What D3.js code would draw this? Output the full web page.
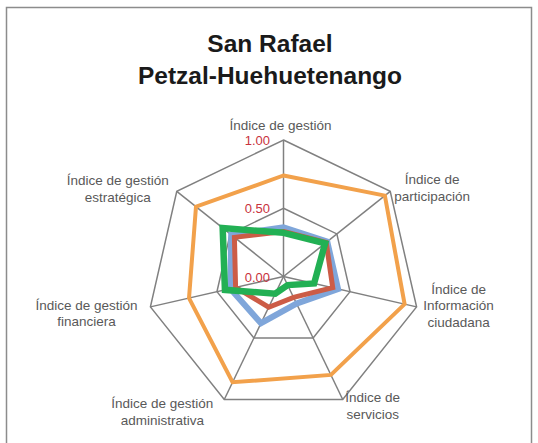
<!DOCTYPE html>
<html>
<head>
<meta charset="utf-8">
<script src="https://cdn.jsdelivr.net/npm/d3@7"></script>
<style>
  body { margin: 0; background: #fff; }
  svg { display: block; font-family: "Liberation Sans", Arial, sans-serif; }
</style>
</head>
<body>
<svg width="538" height="443"></svg>
<script>
// Axis labels, clockwise from the top
const AXES = [
  ["Índice de gestión"],
  ["Índice de", "participación"],
  ["Índice de", "Información", "ciudadana"],
  ["Índice de", "servicios"],
  ["Índice de gestión", "administrativa"],
  ["Índice de gestión", "financiera"],
  ["Índice de gestión", "estratégica"]
];

// Series values
const ORANGE = [0.74, 0.95, 0.91, 0.80, 0.86, 0.71, 0.82];
const BLUE = [0.36, 0.41, 0.41, 0.22, 0.38, 0.40, 0.49];
const RED = [0.33, 0.40, 0.37, 0.17, 0.25, 0.36, 0.46];
const GREEN = [0.32, 0.39, 0.23, 0.07, 0.14, 0.44, 0.57];

const TICKS = [0, 0.5, 1];
const TITLE = ["San Rafael", "Petzal-Huehuetenango"];

const series = [
  { values: ORANGE, color: "#f2a14b", width: 4 },
  { values: BLUE, color: "#7fa6da", width: 6 },
  { values: RED, color: "#cc5c46", width: 5 },
  { values: GREEN, color: "#22b054", width: 6.5 }
];

// Label placement relative to each axis tip: block center x, first baseline y
const labelOffsets = [
  [-3, -10], [42, -7], [42, -13], [30, 3], [-62, 9], [-64, 3], [-59, -6]
];

const svg = d3.select("svg");
const cx = 283.5, cy = 276.5, R = 136.5;

// Chart border
svg.append("rect")
  .attr("x", 6.5).attr("y", 7.5)
  .attr("width", 525).attr("height", 460)
  .attr("fill", "none")
  .attr("stroke", "#8c8c8c")
  .attr("stroke-width", 1.5);

// Title
svg.append("text")
  .attr("text-anchor", "middle")
  .attr("font-weight", "bold")
  .attr("font-size", 24.5)
  .attr("fill", "#1a1a1a")
  .selectAll("tspan")
  .data(TITLE)
  .enter()
  .append("tspan")
  .attr("x", 270)
  .attr("y", (d, i) => 51.5 + i * 32)
  .text(d => d);

const n = AXES.length;
const angle = d3.scaleLinear().domain([0, n]).range([0, 2 * Math.PI]);
const rScale = d3.scaleLinear().domain([0, 1]).range([0, R]);

const g = svg.append("g").attr("transform", `translate(${cx},${cy})`);

const pt = (i, v) => [
  rScale(v) * Math.sin(angle(i)),
  -rScale(v) * Math.cos(angle(i))
];

// Grid rings
const ring = d3.lineRadial()
  .angle((d, i) => angle(i))
  .radius(d => rScale(d))
  .curve(d3.curveLinearClosed);

g.selectAll(".ring")
  .data(TICKS.filter(t => t > 0))
  .enter()
  .append("path")
  .attr("d", t => ring(AXES.map(() => t)))
  .attr("fill", "none")
  .attr("stroke", "#808080")
  .attr("stroke-width", 1.5);

// Spokes
g.selectAll(".spoke")
  .data(AXES)
  .enter()
  .append("line")
  .attr("x1", 0).attr("y1", 0)
  .attr("x2", (d, i) => pt(i, 1)[0])
  .attr("y2", (d, i) => pt(i, 1)[1])
  .attr("stroke", "#808080")
  .attr("stroke-width", 1.5);

// Series
const line = d3.lineRadial()
  .angle((d, i) => angle(i))
  .radius(d => rScale(d))
  .curve(d3.curveLinearClosed);

g.selectAll(".series")
  .data(series)
  .enter()
  .append("path")
  .attr("d", s => line(s.values))
  .attr("fill", "none")
  .attr("stroke", s => s.color)
  .attr("stroke-width", s => s.width)
  .attr("stroke-linejoin", "miter");

// Tick labels
g.selectAll(".tick")
  .data(TICKS)
  .enter()
  .append("text")
  .attr("x", -13.5)
  .attr("y", t => -rScale(t) + 5)
  .attr("text-anchor", "end")
  .attr("font-size", 13)
  .attr("fill", "#c8323c")
  .text(t => d3.format(".2f")(t));

// Axis labels
AXES.forEach((lines, i) => {
  const [x, y] = pt(i, 1);
  const [dx, dy] = labelOffsets[i];
  g.append("text")
    .attr("text-anchor", "middle")
    .attr("font-size", 13.5)
    .attr("fill", "#595959")
    .selectAll("tspan")
    .data(lines)
    .enter()
    .append("tspan")
    .attr("x", x + dx)
    .attr("y", (d, j) => y + dy + j * 16.5)
    .text(d => d);
});
</script>
</body>
</html>
